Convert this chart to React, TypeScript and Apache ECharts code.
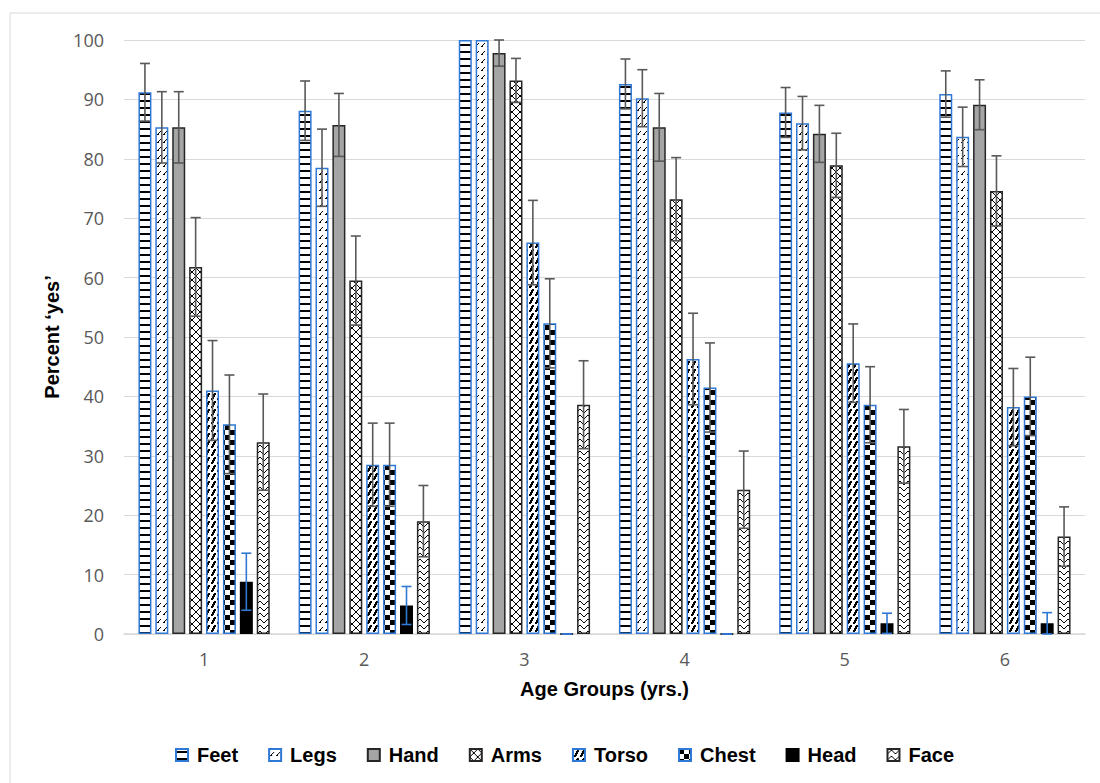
import React, { useEffect, useRef } from 'react';
import * as echarts from 'echarts';

const categories = ['1', '2', '3', '4', '5', '6'];
const seriesNames = ['Feet', 'Legs', 'Hand', 'Arms', 'Torso', 'Chest', 'Head', 'Face'];
const yTicks = [0, 10, 20, 30, 40, 50, 60, 70, 80, 90, 100];

const feet = [91.2, 88.1, 100, 92.6, 87.8, 90.9];
const legs = [85.3, 78.5, 100, 90.2, 86.0, 83.7];
const hand = [85.3, 85.7, 97.8, 85.3, 84.2, 89.1];
const arms = [61.8, 59.5, 93.2, 73.2, 78.9, 74.6];
const torso = [41.0, 28.5, 65.9, 46.3, 45.6, 38.2];
const chest = [35.3, 28.5, 52.3, 41.5, 38.6, 40.0];
const head = [8.8, 4.8, 0, 0, 1.8, 1.8];
const face = [32.3, 19.0, 38.6, 24.3, 31.6, 16.4];

const feetErr = [4.85, 5.0, null, 4.2, 4.2, 3.9];
const legsErr = [6.0, 6.5, null, 4.8, 4.5, 5.0];
const handErr = [6.0, 5.3, 2.2, 5.7, 4.8, 4.2];
const armsErr = [8.3, 7.5, 3.7, 7.0, 5.4, 5.9];
const torsoErr = [8.4, 7.0, 7.1, 7.7, 6.6, 6.5];
const chestErr = [8.3, 7.0, 7.5, 7.5, 6.4, 6.6];
const headErr = [4.8, 3.2, 0, 0, 1.7, 1.8];
const faceErr = [8.1, 6.0, 7.4, 6.5, 6.2, 5.0];

const values = [feet, legs, hand, arms, torso, chest, head, face];
const errors = [feetErr, legsErr, handErr, armsErr, torsoErr, chestErr, headErr, faceErr];

const BLUE = '#2F78D4';
const DARK = '#262626';
const BW = 13;
const GAP = 0.3;
const PITCH = BW * (1 + GAP);

type Px = (x: number, y: number, w?: number, h?: number) => void;

function tile(w: number, h: number, draw: (px: Px) => void) {
  const c = document.createElement('canvas');
  c.width = w;
  c.height = h;
  const ctx = c.getContext('2d') as CanvasRenderingContext2D;
  ctx.fillStyle = '#ffffff';
  ctx.fillRect(0, 0, w, h);
  ctx.fillStyle = '#000000';
  draw((x, y, a = 1, b = 1) => ctx.fillRect(x, y, a, b));
  return { image: c.toDataURL(), repeat: 'repeat', imageWidth: w, imageHeight: h } as any;
}

function makeStyles() {
  const feetP = tile(4, 7, (px) => px(0, 2, 4, 2));
  const legsP = tile(6, 8, (px) => {
    px(1, 6, 2, 1); px(2, 5); px(3, 4); px(4, 3);
  });
  const armsP = tile(8, 8, (px) => {
    for (let i = 0; i < 8; i++) { px(i, i); px(7 - i, i); }
  });
  const torsoP = tile(6, 8, (px) => {
    px(4, 1, 2, 1); px(3, 2, 3, 1); px(3, 3, 2, 1); px(2, 4, 3, 1);
    px(2, 5, 2, 1); px(1, 6, 3, 1); px(1, 7, 2, 1);
  });
  const chestP = tile(10, 10, (px) => { px(0, 0, 5, 5); px(5, 5, 5, 5); });
  const faceP = tile(8, 6, (px) => {
    px(0, 4); px(1, 3); px(2, 2); px(3, 1); px(4, 1); px(5, 2); px(6, 3); px(7, 4);
  });
  return [
    { color: feetP, borderColor: BLUE },
    { color: legsP, borderColor: BLUE },
    { color: '#A5A5A5', borderColor: DARK },
    { color: armsP, borderColor: DARK },
    { color: torsoP, borderColor: BLUE },
    { color: chestP, borderColor: BLUE },
    { color: '#000000', borderColor: '#000000' },
    { color: faceP, borderColor: DARK },
  ];
}

export default function App() {
  const ref = useRef<HTMLDivElement>(null);
  useEffect(() => {
    document.body.style.margin = '0';
    if (!ref.current) return;
    const chart = echarts.init(ref.current, undefined, { renderer: 'svg' });
    const styles = makeStyles();
    const barSeries = seriesNames.map((name, i) => ({
      name,
      type: 'bar',
      barWidth: BW,
      barGap: GAP * 100 + '%',
      data: values[i],
      itemStyle: { ...styles[i], borderWidth: 1.5 },
      z: 2,
    }));
    const errSeries = seriesNames.map((name, i) => ({
      name: name + ' error',
      type: 'custom',
      z: 5,
      silent: true,
      encode: { x: 0, y: 1 },
      data: categories
        .map((_, k) => [k, values[i][k], errors[i][k]])
        .filter((d) => d[2] !== null),
      renderItem: (_p: any, api: any) => {
        const k = api.value(0);
        const v = api.value(1);
        const e = api.value(2);
        const top = api.coord([k, v + e]);
        const bot = api.coord([k, v - e]);
        const x = top[0] + (i - 3.5) * PITCH;
        const hw = 5;
        const stroke = i === 6 ? BLUE : '#595959';
        const st = { stroke, lineWidth: 1.6 };
        return {
          type: 'group',
          children: [
            { type: 'line', shape: { x1: x, y1: top[1], x2: x, y2: bot[1] }, style: st },
            { type: 'line', shape: { x1: x - hw, y1: top[1], x2: x + hw, y2: top[1] }, style: st },
            { type: 'line', shape: { x1: x - hw, y1: bot[1], x2: x + hw, y2: bot[1] }, style: st },
          ],
        };
      },
    }));
    chart.setOption({
      animation: false,
      backgroundColor: '#ffffff',
      graphic: [
        {
          type: 'rect',
          shape: { x: 10, y: 13, width: 1100, height: 800 },
          style: { fill: 'none', stroke: '#d9d9d9', lineWidth: 1 },
          z: -10,
        },
      ],
      grid: { left: 124, right: 15, top: 40, bottom: 149 },
      legend: {
        data: seriesNames,
        left: 175,
        top: 745,
        padding: 0,
        itemWidth: 12,
        itemHeight: 12,
        itemGap: 30,
        icon: 'rect',
        textStyle: {
          fontFamily: 'Liberation Sans, Arial, sans-serif',
          fontWeight: 'bold',
          fontSize: 20,
          color: '#000000',
          padding: [0, 0, 0, 4],
        },
      },
      xAxis: {
        type: 'category',
        data: categories,
        axisLine: { lineStyle: { color: '#d9d9d9', width: 1.5 } },
        axisTick: { show: false },
        axisLabel: { color: '#595959', fontSize: 18, fontFamily: 'Open Sans', margin: 16 },
        name: 'Age Groups (yrs.)',
        nameLocation: 'middle',
        nameGap: 45,
        nameTextStyle: {
          fontFamily: 'Liberation Sans, Arial, sans-serif',
          fontWeight: 'bold',
          fontSize: 20,
          color: '#000000',
        },
      },
      yAxis: {
        type: 'value',
        min: yTicks[0],
        max: yTicks[yTicks.length - 1],
        interval: yTicks[1] - yTicks[0],
        axisLine: { show: false },
        axisTick: { show: false },
        splitLine: { lineStyle: { color: '#d9d9d9', width: 1 } },
        axisLabel: { color: '#595959', fontSize: 18, fontFamily: 'Open Sans', margin: 20 },
        name: 'Percent \u2018yes\u2019',
        nameLocation: 'middle',
        nameGap: 59,
        nameRotate: 90,
        nameTextStyle: {
          fontFamily: 'Liberation Sans, Arial, sans-serif',
          fontWeight: 'bold',
          fontSize: 20,
          color: '#000000',
        },
      },
      series: [...barSeries, ...errSeries],
    });
    return () => chart.dispose();
  }, []);
  return <div ref={ref} style={{ width: 1100, height: 783 }} />;
}
